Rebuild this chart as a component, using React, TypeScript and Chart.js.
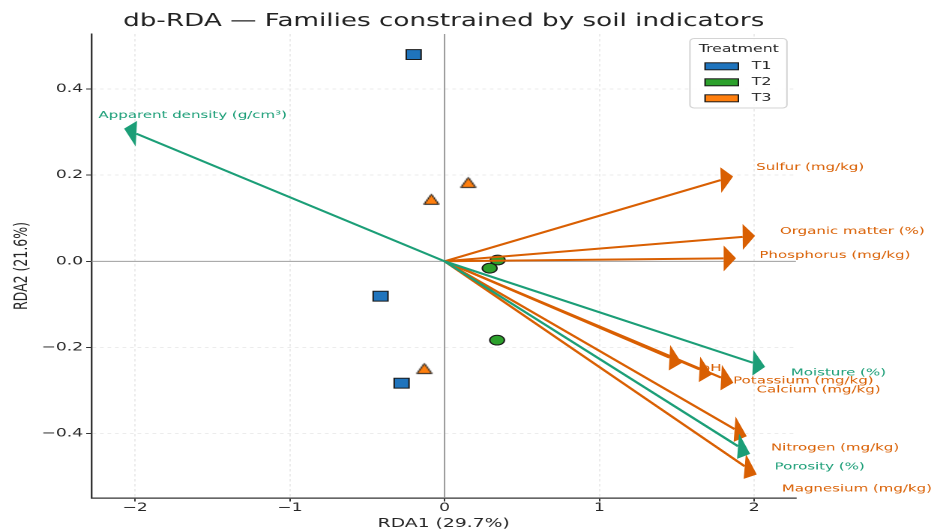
import React, { useEffect, useRef } from 'react';
import { Chart, registerables } from 'chart.js';

Chart.register(...registerables);

// ---------- data ----------
const TITLE = 'db-RDA — Families constrained by soil indicators';
const X_LABEL = 'RDA1 (29.7%)';
const Y_LABEL = 'RDA2 (21.6%)';

const TREATMENTS = ['T1', 'T2', 'T3'];
const T1_X = [-0.2, -0.414, -0.278];
const T1_Y = [0.48, -0.081, -0.283];
const T2_X = [0.343, 0.291, 0.339];
const T2_Y = [0.003, -0.016, -0.183];
const T3_X = [0.153, -0.086, -0.131];
const T3_Y = [0.183, 0.144, -0.249];

const VAR_NAMES = [
  'pH',
  'Organic matter (%)',
  'Nitrogen (mg/kg)',
  'Phosphorus (mg/kg)',
  'Potassium (mg/kg)',
  'Calcium (mg/kg)',
  'Magnesium (mg/kg)',
  'Sulfur (mg/kg)',
  'Apparent density (g/cm³)',
  'Porosity (%)',
  'Moisture (%)',
];
const VAR_X = [1.532, 2.006, 1.952, 1.883, 1.726, 1.866, 2.017, 1.864, -2.071, 1.974, 2.071];
const VAR_Y = [-0.236, 0.059, -0.406, 0.007, -0.263, -0.282, -0.495, 0.197, 0.308, -0.447, -0.245];
const VAR_GROUP = ['chem', 'chem', 'chem', 'chem', 'chem', 'chem', 'chem', 'chem', 'phys', 'phys', 'phys'];

const X_TICKS = [-2, -1, 0, 1, 2];
const Y_TICKS = [-0.4, -0.2, 0, 0.2, 0.4];
const X_MIN = -2.282;
const X_MAX = 2.27;
const Y_MIN = -0.5495;
const Y_MAX = 0.5277;

// ---------- styles ----------
const FONT = '"DejaVu Sans", "Noto Sans", sans-serif';
const TREAT_COLORS = ['#1f74bd', '#2ca02c', '#ff7f0e'];
const GROUP_COLORS: Record<string, string> = { chem: '#d95f02', phys: '#1b9e77' };
const HEAD_LEN = 0.08; // data units
const HEAD_WIDTH = 0.06; // data units
const LABEL_SCALE = 1.08;

const CANVAS_W = 621;
const CANVAS_H = 531;
const PAGE_W = 931;

const fmt = (v: number, d: number) => (v < -1e-9 ? '\u2212' : '') + Math.abs(v).toFixed(d);

function makeTriangle(fill: string): HTMLCanvasElement {
  const c = document.createElement('canvas');
  c.width = 13;
  c.height = 13;
  const g = c.getContext('2d')!;
  g.beginPath();
  g.moveTo(6.5, 1.5);
  g.lineTo(11.5, 11.5);
  g.lineTo(1.5, 11.5);
  g.closePath();
  g.fillStyle = fill;
  g.fill();
  g.lineWidth = 1;
  g.strokeStyle = '#1a1a1a';
  g.lineJoin = 'miter';
  g.stroke();
  return c;
}

const biplotPlugin = {
  id: 'biplot',
  beforeDatasetsDraw(chart: any) {
    const { ctx, chartArea, scales } = chart;
    const sx = scales.x;
    const sy = scales.y;
    const x0 = sx.getPixelForValue(0);
    const y0 = sy.getPixelForValue(0);
    ctx.save();
    ctx.strokeStyle = '#8f8f8f';
    ctx.lineWidth = 0.9;
    ctx.beginPath();
    ctx.moveTo(x0, chartArea.top);
    ctx.lineTo(x0, chartArea.bottom);
    ctx.moveTo(chartArea.left, y0);
    ctx.lineTo(chartArea.right, y0);
    ctx.stroke();
    ctx.restore();
  },
  afterDatasetsDraw(chart: any) {
    const { ctx, scales } = chart;
    const sx = scales.x;
    const sy = scales.y;
    const ox = sx.getPixelForValue(0);
    const oy = sy.getPixelForValue(0);

    // labels
    ctx.save();
    ctx.font = `10px ${FONT}`;
    ctx.textAlign = 'left';
    ctx.textBaseline = 'middle';
    VAR_NAMES.forEach((name, i) => {
      ctx.fillStyle = GROUP_COLORS[VAR_GROUP[i]];
      const px = sx.getPixelForValue(VAR_X[i] * LABEL_SCALE);
      const py = sy.getPixelForValue(VAR_Y[i] * LABEL_SCALE) - 2.5;
      ctx.fillText(name, px, py);
    });
    ctx.restore();

    // arrows: chemical first, physical on top
    const order = VAR_NAMES.map((_, i) => i).sort(
      (a, b) => (VAR_GROUP[a] === 'phys' ? 1 : 0) - (VAR_GROUP[b] === 'phys' ? 1 : 0)
    );
    ctx.save();
    order.forEach((i) => {
      const tx = VAR_X[i];
      const ty = VAR_Y[i];
      const L = Math.hypot(tx, ty);
      const ux = tx / L;
      const uy = ty / L;
      const bx = tx - HEAD_LEN * ux;
      const by = ty - HEAD_LEN * uy;
      const hw = HEAD_WIDTH / 2;
      const c1x = bx - uy * hw;
      const c1y = by + ux * hw;
      const c2x = bx + uy * hw;
      const c2y = by - ux * hw;
      const color = GROUP_COLORS[VAR_GROUP[i]];
      ctx.strokeStyle = color;
      ctx.fillStyle = color;
      ctx.lineWidth = 2;
      ctx.beginPath();
      ctx.moveTo(ox, oy);
      ctx.lineTo(sx.getPixelForValue(bx), sy.getPixelForValue(by));
      ctx.stroke();
      ctx.beginPath();
      ctx.moveTo(sx.getPixelForValue(tx), sy.getPixelForValue(ty));
      ctx.lineTo(sx.getPixelForValue(c1x), sy.getPixelForValue(c1y));
      ctx.lineTo(sx.getPixelForValue(c2x), sy.getPixelForValue(c2y));
      ctx.closePath();
      ctx.fill();
    });
    ctx.restore();
  },
  afterDraw(chart: any) {
    const { ctx, chartArea } = chart;
    const x1 = chartArea.right - 6;
    const x0 = x1 - 64.7;
    const y0 = chartArea.top + 4.5;
    const y1 = y0 + 69.5;
    ctx.save();
    ctx.beginPath();
    if (ctx.roundRect) ctx.roundRect(x0, y0, x1 - x0, y1 - y0, 3);
    else ctx.rect(x0, y0, x1 - x0, y1 - y0);
    ctx.fillStyle = 'rgba(255,255,255,0.85)';
    ctx.fill();
    ctx.strokeStyle = '#d4d4d4';
    ctx.lineWidth = 1;
    ctx.stroke();

    ctx.font = `10.5px ${FONT}`;
    ctx.fillStyle = '#262626';
    ctx.textBaseline = 'middle';
    ctx.textAlign = 'center';
    ctx.fillText('Treatment', x0 + 32.6, y0 + 11);
    ctx.textAlign = 'left';
    TREATMENTS.forEach((t, i) => {
      const yc = y0 + 27.8 + i * 16;
      ctx.fillStyle = TREAT_COLORS[i];
      ctx.fillRect(x0 + 10.1, yc - 3.5, 22.2, 7);
      ctx.strokeStyle = '#1a1a1a';
      ctx.lineWidth = 1;
      ctx.strokeRect(x0 + 10.1, yc - 3.5, 22.2, 7);
      ctx.fillStyle = '#262626';
      ctx.fillText(t, x0 + 41.2, yc);
    });
    ctx.restore();
  },
};

export default function App() {
  const ref = useRef<HTMLCanvasElement>(null);

  useEffect(() => {
    if (!ref.current) return;
    const pts = (xs: number[], ys: number[]) => xs.map((x, i) => ({ x, y: ys[i] }));
    const gridColor = (c: any) => (c.tick && Math.abs(c.tick.value) < 1e-9 ? 'rgba(0,0,0,0)' : '#e6e6e6');

    const chart = new Chart(ref.current, {
      type: 'scatter',
      data: {
        datasets: [
          {
            label: TREATMENTS[0],
            data: pts(T1_X, T1_Y),
            pointStyle: 'rect',
            pointRadius: 7,
            backgroundColor: TREAT_COLORS[0],
            borderColor: '#1a1a1a',
            borderWidth: 1,
          },
          {
            label: TREATMENTS[1],
            data: pts(T2_X, T2_Y),
            pointStyle: 'circle',
            pointRadius: 4.9,
            backgroundColor: TREAT_COLORS[1],
            borderColor: '#1a1a1a',
            borderWidth: 1,
          },
          {
            label: TREATMENTS[2],
            data: pts(T3_X, T3_Y),
            pointStyle: makeTriangle(TREAT_COLORS[2]),
            pointRadius: 6,
            backgroundColor: TREAT_COLORS[2],
            borderColor: '#1a1a1a',
            borderWidth: 1,
          },
        ],
      },
      options: {
        responsive: false,
        animation: false,
        devicePixelRatio: 2,
        events: [],
        layout: { padding: { left: 0, right: 90.1, top: 0, bottom: 0 } },
        plugins: {
          legend: { display: false },
          tooltip: { enabled: false },
          title: {
            display: true,
            text: TITLE,
            fullSize: false,
            color: '#222',
            font: { family: FONT, size: 17.5, weight: 'normal' },
            padding: { top: 11, bottom: 2 },
          },
        },
        scales: {
          x: {
            type: 'linear',
            position: 'bottom',
            min: X_MIN,
            max: X_MAX,
            afterBuildTicks: (s: any) => {
              s.ticks = X_TICKS.map((v) => ({ value: v }));
            },
            afterFit: (s: any) => {
              s.height = 33;
            },
            ticks: {
              callback: (v: any) => fmt(Number(v), 0),
              font: { family: FONT, size: 11.5 },
              color: '#262626',
              padding: -0.5,
              maxRotation: 0,
              autoSkip: false,
            },
            grid: {
              color: gridColor,
              lineWidth: 0.8,
              drawTicks: true,
              tickLength: 3.5,
              tickColor: '#333',
              tickWidth: 1,
            },
            border: { display: true, color: '#333', width: 1.2, dash: [2.5, 2.5] },
            title: {
              display: true,
              text: X_LABEL,
              color: '#262626',
              font: { family: FONT, size: 12.5 },
              padding: { top: 0, bottom: 0 },
            },
          },
          y: {
            type: 'linear',
            position: 'left',
            min: Y_MIN,
            max: Y_MAX,
            afterBuildTicks: (s: any) => {
              s.ticks = Y_TICKS.map((v) => ({ value: v }));
            },
            afterFit: (s: any) => {
              s.width = 61;
            },
            ticks: {
              callback: (v: any) => fmt(Number(v), 1),
              font: { family: FONT, size: 11.5 },
              color: '#262626',
              padding: 2,
              autoSkip: false,
            },
            grid: {
              color: gridColor,
              lineWidth: 0.8,
              drawTicks: true,
              tickLength: 3.5,
              tickColor: '#333',
              tickWidth: 1,
            },
            border: { display: true, color: '#333', width: 1.2, dash: [2.5, 2.5] },
            title: {
              display: true,
              text: Y_LABEL,
              color: '#262626',
              font: { family: FONT, size: 12.5 },
              padding: { top: 7.2, bottom: 0 },
            },
          },
        },
      } as any,
      plugins: [biplotPlugin],
    } as any);

    return () => chart.destroy();
  }, []);

  return (
    <div
      style={{
        position: 'fixed',
        left: 0,
        top: 0,
        width: PAGE_W,
        height: CANVAS_H,
        overflow: 'hidden',
        background: '#fff',
      }}
    >
      <div
        style={{
          width: CANVAS_W,
          height: CANVAS_H,
          transform: `scaleX(${PAGE_W / CANVAS_W})`,
          transformOrigin: '0 0',
        }}
      >
        <canvas
          ref={ref}
          width={CANVAS_W}
          height={CANVAS_H}
          style={{ width: `${CANVAS_W}px`, height: `${CANVAS_H}px`, display: 'block' }}
        />
      </div>
    </div>
  );
}
